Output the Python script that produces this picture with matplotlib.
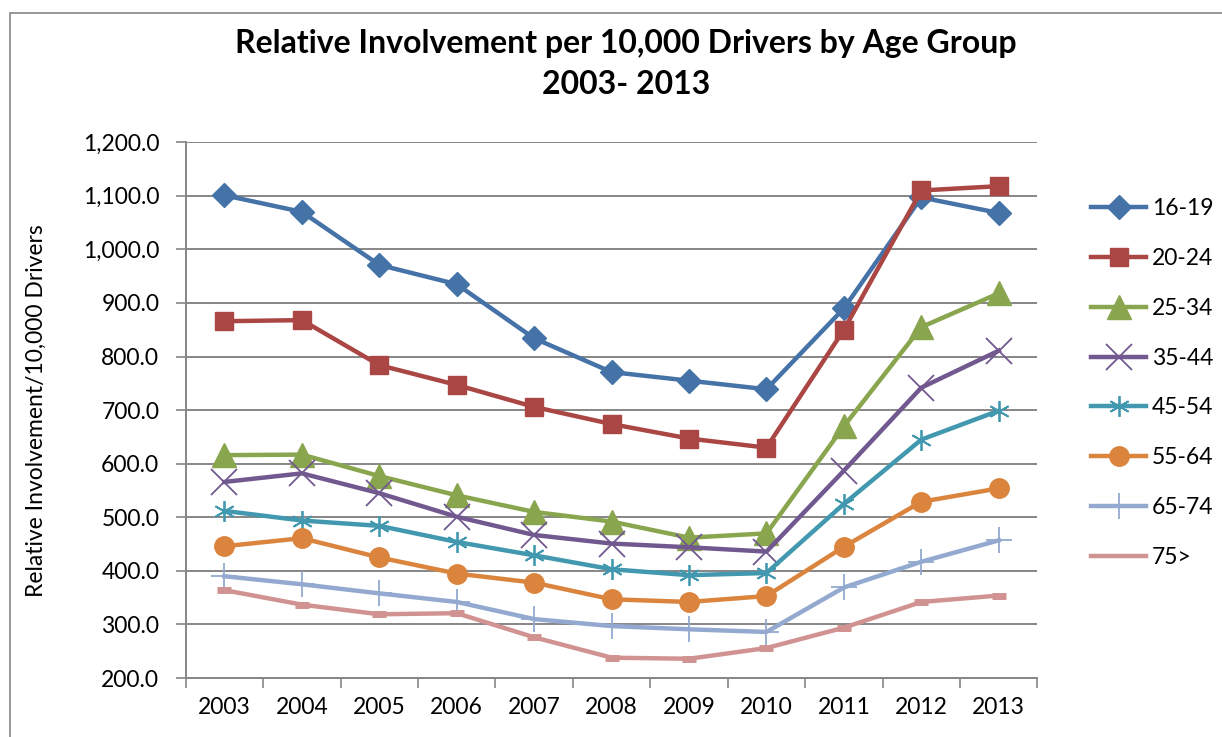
import matplotlib
matplotlib.use("Agg")
import matplotlib.pyplot as plt
import numpy as np
from matplotlib.patches import Rectangle

# data
years = ["2003", "2004", "2005", "2006", "2007", "2008", "2009", "2010", "2011", "2012", "2013"]
groups = ["16-19", "20-24", "25-34", "35-44", "45-54", "55-64", "65-74", "75>"]

age_16_19 = [1101, 1070, 971, 935, 834, 771, 755, 739, 890, 1097, 1068]
age_20_24 = [866, 868, 784, 747, 706, 674, 647, 630, 850, 1110, 1118]
age_25_34 = [616, 617, 577, 541, 510, 492, 462, 470, 670, 855, 918]
age_35_44 = [566, 582, 545, 501, 467, 451, 444, 436, 587, 742, 811]
age_45_54 = [512, 494, 484, 454, 429, 403, 392, 396, 525, 645, 699]
age_55_64 = [446, 461, 425, 395, 378, 347, 342, 353, 445, 529, 554]
age_65_74 = [390, 375, 358, 342, 310, 297, 291, 286, 369, 417, 457]
age_75_up = [364, 337, 319, 321, 276, 238, 236, 256, 294, 342, 354]

series = [age_16_19, age_20_24, age_25_34, age_35_44, age_45_54, age_55_64, age_65_74, age_75_up]

# styling
colors = ["#4572A7", "#AA4643", "#89A54E", "#71588F", "#4198AF", "#DB843D", "#93A9CF", "#D19392"]
markers = ["D", "s", "^", "x", (6, 2, 0), "o", "+", "_"]
msizes = [12, 13, 17, 19, 15, 14, 19, 10]
mews = [1, 1, 1, 1.3, 1.3, 1, 1.3, 5]

plt.rcParams['font.family'] = ['Lato', 'DejaVu Sans']
FS = 16.5

fig = plt.figure(figsize=(12.22, 7.37), dpi=100)
ax = fig.add_axes([0.152, 0.080, 0.697, 0.727])

x = np.arange(len(years))
for vals, name, c, m, ms, mew in zip(series, groups, colors, markers, msizes, mews):
    ax.plot(x, vals, color=c, lw=3.2, marker=m, markersize=ms,
            markeredgewidth=mew, markeredgecolor=c, markerfacecolor=c,
            label=name, zorder=3, solid_joinstyle='round')

ax.set_ylim(200, 1200)
ax.set_xlim(-0.5, len(years) - 0.5)
ax.set_yticks(np.arange(200, 1201, 100))
ax.set_yticklabels([f"{v:,.1f}" for v in np.arange(200, 1201, 100)], fontsize=FS)
ax.set_xticks(x)
ax.set_xticklabels(years, fontsize=FS)
ax.set_xticks(np.arange(-0.5, len(years), 1), minor=True)
ax.tick_params(axis='x', which='major', length=0, pad=14)
ax.tick_params(axis='x', which='minor', length=7, color='#868686', width=1.2)
ax.tick_params(axis='y', length=7, color='#868686', width=1.2, pad=12)

ax.grid(axis='y', color='#868686', lw=1.4, zorder=0)
ax.set_axisbelow(True)
for s in ['top', 'right']:
    ax.spines[s].set_visible(False)
for s in ['left', 'bottom']:
    ax.spines[s].set_color('#868686')
    ax.spines[s].set_linewidth(1.4)

ax.set_ylabel("Relative Involvement/10,000 Drivers", fontsize=16.5)
ax.yaxis.set_label_coords(-0.163, 0.5)

fig.text(0.512, 0.913, "Relative Involvement per 10,000 Drivers by Age Group\n2003- 2013",
         ha='center', va='center', fontsize=23, fontweight='bold', linespacing=1.5)

leg = ax.legend(loc='upper left', bbox_to_anchor=(1.063, 0.896), frameon=False,
                fontsize=FS, handlelength=2.4, labelspacing=1.26, handletextpad=0.25,
                borderpad=0, borderaxespad=0)
# the 75> entry shows only its line in the legend
leg.legend_handles[-1].set_marker('')

# chart border
fig.patches.append(Rectangle((0.008, -0.01), 1.2, 0.992, transform=fig.transFigure,
                             fill=False, edgecolor='#868686', lw=1.2))

fig.savefig("out.png", dpi=100, facecolor='white')
